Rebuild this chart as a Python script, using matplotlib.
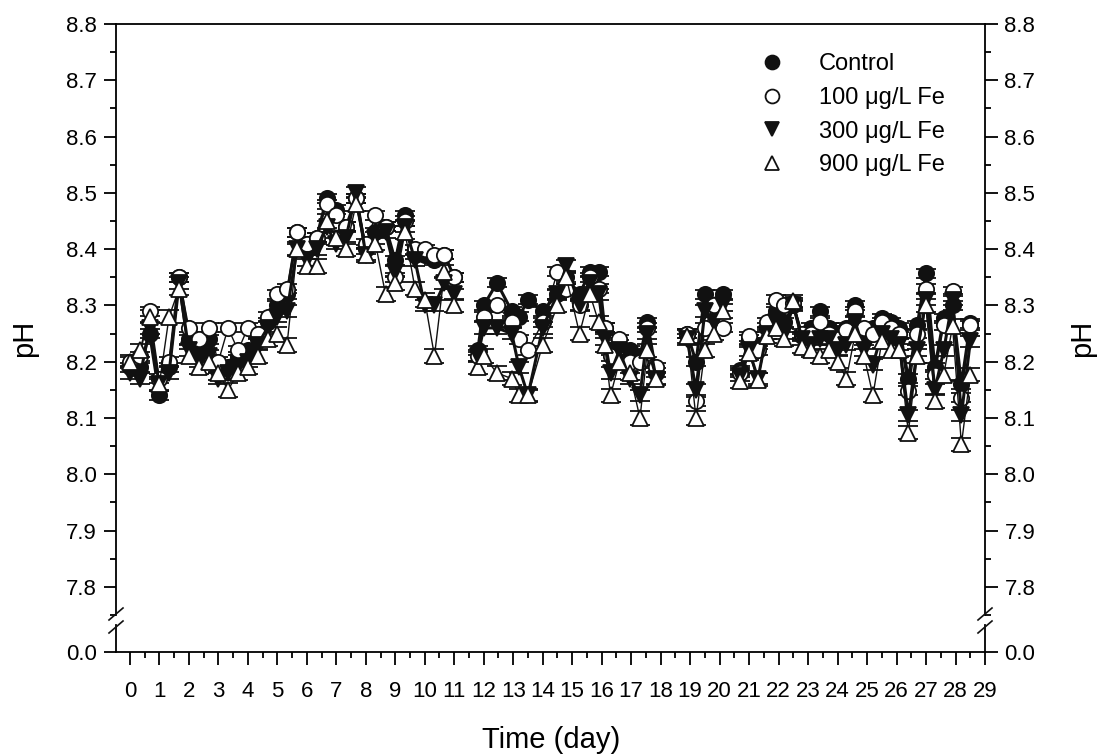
import numpy as np
import matplotlib
matplotlib.use("Agg")
import matplotlib.pyplot as plt
from matplotlib.lines import Line2D

plt.rcParams['font.family'] = ['Liberation Sans', 'DejaVu Sans']

nan = np.nan

# sampling times (day); nan marks gaps in the record
time = [0, 0.33, 0.67, 1.0, 1.33, 1.67, 2.0, 2.33, 2.67, 3.0, 3.33, 3.67, 4.0, 4.33, 4.67,
        5.0, 5.33, 5.67, 6.0, 6.33, 6.67, 7.0, 7.33, 7.67, 8.0, 8.33, 8.67, 9.0, 9.33, 9.67,
        10.0, 10.33, 10.67, 11.0, nan,
        11.8, 12.0, 12.45, 12.95, 13.2, 13.5, 14.0, 14.5, 14.8, 15.25, 15.6, 15.9, 16.1, 16.3,
        16.6, 16.95, 17.3, 17.55, 17.85, nan,
        18.9, 19.2, 19.5, 19.8, 20.1, nan,
        20.7, 21.0, 21.3, 21.6, 21.9, 22.2, 22.5, 22.8, 23.1, 23.4, 23.7, 24.0, 24.3, 24.6,
        24.9, 25.2, 25.5, 25.8, 26.1, 26.4, 26.7, 27.0, 27.3, 27.6, 27.9, 28.2, 28.5]

ph_control = [8.19, 8.19, 8.25, 8.14, 8.19, 8.35, 8.24, 8.22, 8.24, 8.19, 8.19, 8.21, 8.22, 8.24, 8.27,
              8.30, 8.32, 8.43, 8.40, 8.42, 8.49, 8.47, 8.44, 8.49, 8.40, 8.43, 8.44, 8.38, 8.46, 8.39,
              8.39, 8.38, 8.39, 8.35, nan,
              8.22, 8.30, 8.34, 8.29, 8.28, 8.31, 8.29, 8.32, 8.35, 8.32, 8.36, 8.36, 8.26, 8.22,
              8.23, 8.22, 8.21, 8.27, 8.18, nan,
              8.25, 8.20, 8.32, 8.30, 8.32, nan,
              8.185, 8.24, 8.23, 8.26, 8.29, 8.27, 8.30, 8.245, 8.26, 8.29, 8.26, 8.25, 8.26, 8.30,
              8.25, 8.26, 8.277, 8.27, 8.26, 8.17, 8.265, 8.357, 8.19, 8.277, 8.30, 8.16, 8.268]

ph_fe100 = [8.20, 8.21, 8.29, 8.17, 8.20, 8.35, 8.26, 8.24, 8.26, 8.20, 8.26, 8.22, 8.26, 8.25, 8.28,
            8.32, 8.33, 8.43, 8.41, 8.42, 8.48, 8.46, 8.44, 8.49, 8.41, 8.46, 8.44, 8.35, 8.45, 8.40,
            8.40, 8.39, 8.39, 8.35, nan,
            8.21, 8.28, 8.30, 8.27, 8.24, 8.22, 8.27, 8.36, 8.33, 8.30, 8.35, 8.33, 8.26, 8.21,
            8.24, 8.20, 8.20, 8.26, 8.19, nan,
            8.25, 8.13, 8.26, 8.30, 8.26, nan,
            8.18, 8.245, 8.22, 8.27, 8.31, 8.30, 8.305, 8.25, 8.25, 8.27, 8.25, 8.24, 8.256, 8.29,
            8.26, 8.25, 8.27, 8.26, 8.25, 8.148, 8.25, 8.33, 8.177, 8.265, 8.325, 8.136, 8.265]

ph_fe300 = [8.18, 8.17, 8.26, 8.16, 8.18, 8.34, 8.22, 8.20, 8.21, 8.17, 8.18, 8.19, 8.20, 8.23, 8.26,
            8.28, 8.29, 8.40, 8.38, 8.40, 8.44, 8.41, 8.42, 8.50, 8.39, 8.42, 8.43, 8.36, 8.44, 8.38,
            8.30, 8.30, 8.34, 8.32, nan,
            8.21, 8.26, 8.26, 8.25, 8.19, 8.14, 8.26, 8.32, 8.37, 8.30, 8.34, 8.32, 8.24, 8.18,
            8.22, 8.17, 8.14, 8.25, 8.17, nan,
            8.24, 8.15, 8.29, 8.27, 8.30, nan,
            8.175, 8.22, 8.17, 8.25, 8.27, 8.25, 8.30, 8.24, 8.23, 8.24, 8.24, 8.22, 8.23, 8.27,
            8.22, 8.195, 8.25, 8.24, 8.23, 8.105, 8.22, 8.31, 8.15, 8.22, 8.31, 8.105, 8.236]

ph_fe900 = [8.20, 8.22, 8.28, 8.16, 8.28, 8.33, 8.21, 8.19, 8.20, 8.18, 8.15, 8.18, 8.19, 8.21, 8.24,
            8.25, 8.23, 8.40, 8.37, 8.37, 8.45, 8.42, 8.40, 8.48, 8.39, 8.41, 8.32, 8.34, 8.43, 8.33,
            8.31, 8.21, 8.36, 8.30, nan,
            8.19, 8.21, 8.18, 8.17, 8.14, 8.14, 8.23, 8.30, 8.35, 8.25, 8.32, 8.27, 8.23, 8.14,
            8.20, 8.18, 8.10, 8.22, 8.17, nan,
            8.245, 8.10, 8.22, 8.25, 8.29, nan,
            8.166, 8.215, 8.168, 8.245, 8.26, 8.24, 8.307, 8.227, 8.22, 8.21, 8.22, 8.20, 8.17, 8.25,
            8.21, 8.14, 8.236, 8.22, 8.22, 8.074, 8.21, 8.30, 8.13, 8.177, 8.263, 8.053, 8.177]

labels = ['Control', '100 μg/L Fe', '300 μg/L Fe', '900 μg/L Fe']
sd = [0.008, 0.008, 0.010, 0.012]

W, H = 1099, 755
fig = plt.figure(figsize=(W / 100, H / 100), dpi=100)
ax = fig.add_axes([116 / W, 1 - 615 / H, 869 / W, 591 / H])
axb = fig.add_axes([116 / W, 1 - 652 / H, 869 / W, 27 / H], sharex=ax)

styles = [
    dict(marker='o', mfc='#111111', mec='#111111', ms=11, lw=2.2),
    dict(marker='o', mfc='white', mec='#111111', ms=11, lw=1.0),
    dict(marker='v', mfc='#111111', mec='#111111', ms=12, lw=2.2),
    dict(marker='^', mfc='white', mec='#111111', ms=12, lw=1.0),
]
series = [ph_control, ph_fe100, ph_fe300, ph_fe900]
for y, lab, st, e in zip(series, labels, styles, sd):
    ax.errorbar(time, y, yerr=e, color='#111111', ecolor='#111111', elinewidth=1.2,
                capsize=7, capthick=1.2, mew=1.3, label=lab, **st)

ax.set_xlim(-0.47, 29.0)
ax.set_ylim(7.755, 8.8)
ax.set_yticks(np.arange(7.8, 8.81, 0.1))
ax.set_yticks(np.arange(7.75, 8.8, 0.1), minor=True)
ax.set_yticklabels([f"{v:.1f}" for v in np.arange(7.8, 8.81, 0.1)])
ax.spines['bottom'].set_visible(False)
ax.tick_params(axis='x', which='both', bottom=False, labelbottom=False)
ax.tick_params(axis='y', which='both', direction='out', left=True, right=True,
               labelleft=True, labelright=True, labelsize=16, width=1.3, pad=5)
ax.tick_params(axis='y', which='major', length=9)
ax.tick_params(axis='y', which='minor', length=4)

axb.set_ylim(0, 1)
axb.set_yticks([0])
axb.set_yticklabels(['0.0'])
axb.spines['top'].set_visible(False)
axb.set_xticks(np.arange(0, 30, 1))
axb.set_xticks(np.arange(0.5, 29, 1), minor=True)
axb.tick_params(axis='y', direction='out', left=True, right=True, labelleft=True,
                labelright=True, labelsize=16, length=9, width=1.3, pad=5)
axb.tick_params(axis='x', which='both', direction='out', labelsize=16, width=1.3, pad=12)
axb.tick_params(axis='x', which='major', length=9)
axb.tick_params(axis='x', which='minor', length=4)

for a in (ax, axb):
    for s in a.spines.values():
        s.set_linewidth(1.3)

# axis break marks
for xs in (116, 985):
    for yc in (614, 627):
        fig.add_artist(Line2D([(xs - 7) / W, (xs + 7) / W], [1 - (yc + 6) / H, 1 - (yc - 6) / H],
                              color='#111111', lw=1.2))

fig.text(551 / W, 1 - 740 / H, 'Time (day)', ha='center', va='center', fontsize=21)
fig.text(24 / W, 1 - 338 / H, 'pH', ha='center', va='center', rotation=90, fontsize=21)
fig.text(1082 / W, 1 - 338 / H, 'pH', ha='center', va='center', rotation=90, fontsize=21)

handles = [Line2D([], [], ls='none', marker=st['marker'], mfc=st['mfc'], mec='#111111',
                  ms=10, mew=1.3) for st in styles]
fig.legend(handles, labels, loc='upper left', bbox_to_anchor=(755 / W, 1 - 53 / H), frameon=False,
           fontsize=17, handletextpad=1.3, labelspacing=0.5, handlelength=1.4,
           borderaxespad=0, borderpad=0)

fig.savefig('out.png', dpi=100)
